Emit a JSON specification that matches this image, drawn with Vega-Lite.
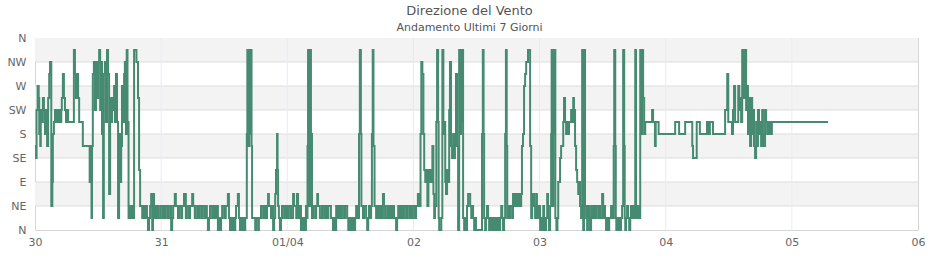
{
"$schema": "https://vega.github.io/schema/vega-lite/v6.json",
"width": 883,
"height": 192,
"autosize": {"type": "none"},
"padding": {"left": 35, "top": 38, "right": 22, "bottom": 30},
"background": "white",
"config": {"font": "DejaVu Sans", "view": {"stroke": "#d6d6d6", "strokeWidth": 1},
 "axisX": {"title": null, "grid": false, "ticks": false, "domain": false, "labelFlush": false, "labelColor": "#666666", "labelFontSize": 11, "labelPadding": 6},
 "axisY": {"title": null, "grid": false, "ticks": false, "domain": false, "labelColor": "#666666", "labelFontSize": 11, "labelPadding": 9}
},
"title": {"text": "Direzione del Vento", "subtitle": "Andamento Ultimi 7 Giorni", "fontSize": 13, "fontWeight": "normal", "color": "#555555", "subtitleFontSize": 11, "subtitleColor": "#555555", "anchor": "middle", "dx": -7, "offset": -1, "subtitlePadding": 4},
"datasets": {
"bands": [{"a": 45, "b": 90}, {"a": 135, "b": 180}, {"a": 225, "b": 270}, {"a": 315, "b": 360}],
"hgrid": [{"g": 45}, {"g": 90}, {"g": 135}, {"g": 180}, {"g": 225}, {"g": 270}, {"g": 315}],
"vgrid": [{"v": 24}, {"v": 48}, {"v": 72}, {"v": 96}, {"v": 120}, {"v": 144}],
"wind": [
{"h":0,"d":157.5},{"h":0.2,"d":135},{"h":0.3,"d":225},{"h":0.5,"d":270},{"h":0.7,"d":247.5},{"h":0.8,"d":180},{"h":1.0,"d":157.5},{"h":1.1,"d":225},{"h":1.3,"d":202.5},{"h":1.5,"d":247.5},{"h":1.7,"d":225},{"h":1.9,"d":180},{"h":2.1,"d":225},{"h":2.3,"d":157.5},{"h":2.5,"d":247.5},{"h":2.7,"d":292.5},{"h":2.85,"d":315},{"h":3.1,"d":45},{"h":3.3,"d":90},{"h":3.4,"d":180},{"h":3.6,"d":202.5},{"h":3.8,"d":225},{"h":4.0,"d":202.5},{"h":4.2,"d":225},{"h":4.4,"d":202.5},{"h":4.6,"d":225},{"h":4.8,"d":202.5},{"h":5.0,"d":225},{"h":5.1,"d":247.5},{"h":5.3,"d":292.5},{"h":5.5,"d":247.5},{"h":5.7,"d":225},{"h":5.9,"d":202.5},{"h":6.1,"d":225},{"h":6.3,"d":202.5},{"h":7.4,"d":337.5},{"h":7.6,"d":292.5},{"h":7.8,"d":247.5},{"h":8.0,"d":292.5},{"h":8.2,"d":247.5},{"h":8.4,"d":202.5},{"h":9.1,"d":157.5},{"h":10.4,"d":90},{"h":10.5,"d":157.5},{"h":10.6,"d":90},{"h":10.75,"d":22.5},{"h":10.85,"d":157.5},{"h":11.0,"d":292.5},{"h":11.2,"d":315},{"h":11.4,"d":225},{"h":11.6,"d":315},{"h":11.8,"d":247.5},{"h":12.0,"d":315},{"h":12.2,"d":337.5},{"h":12.4,"d":225},{"h":12.55,"d":315},{"h":12.75,"d":180},{"h":12.95,"d":22.5},{"h":13.1,"d":292.5},{"h":13.3,"d":315},{"h":13.5,"d":202.5},{"h":13.7,"d":337.5},{"h":13.9,"d":292.5},{"h":14.1,"d":67.5},{"h":14.3,"d":247.5},{"h":14.5,"d":202.5},{"h":14.65,"d":247.5},{"h":14.85,"d":225},{"h":15.05,"d":270},{"h":15.2,"d":202.5},{"h":15.4,"d":292.5},{"h":15.6,"d":202.5},{"h":15.8,"d":22.5},{"h":16.0,"d":180},{"h":16.2,"d":90},{"h":16.4,"d":157.5},{"h":16.55,"d":270},{"h":16.75,"d":202.5},{"h":16.95,"d":292.5},{"h":17.1,"d":315},{"h":17.3,"d":180},{"h":17.45,"d":337.5},{"h":17.6,"d":202.5},{"h":17.8,"d":22.5},{"h":18.0,"d":45},{"h":18.2,"d":22.5},{"h":18.4,"d":45},{"h":18.65,"d":22.5},{"h":18.85,"d":337.5},{"h":19.3,"d":315},{"h":19.6,"d":247.5},{"h":19.8,"d":112.5},{"h":20.0,"d":45},
{"h":20.4,"d":22.5},{"h":20.55,"d":45},{"h":20.9,"d":22.5},{"h":21.1,"d":45},{"h":21.3,"d":22.5},{"h":21.5,"d":0},{"h":21.7,"d":22.5},{"h":21.9,"d":45},{"h":22.1,"d":67.5},{"h":22.3,"d":0},{"h":22.45,"d":67.5},{"h":22.65,"d":22.5},{"h":22.85,"d":45},{"h":23.0,"d":22.5},{"h":23.2,"d":45},{"h":23.4,"d":22.5},{"h":23.8,"d":45},{"h":24.2,"d":22.5},{"h":24.4,"d":45},{"h":24.7,"d":22.5},{"h":24.9,"d":45},{"h":25.3,"d":22.5},{"h":25.7,"d":45},{"h":25.9,"d":0},{"h":26.1,"d":22.5},{"h":26.3,"d":45},{"h":26.6,"d":67.5},{"h":26.8,"d":45},{"h":27.2,"d":22.5},{"h":27.4,"d":45},{"h":27.8,"d":22.5},{"h":28.0,"d":45},{"h":28.35,"d":67.5},{"h":28.7,"d":22.5},{"h":28.9,"d":45},{"h":29.3,"d":22.5},{"h":29.5,"d":45},{"h":29.9,"d":67.5},{"h":30.1,"d":45},{"h":30.4,"d":22.5},{"h":30.6,"d":45},{"h":31.0,"d":22.5},{"h":31.2,"d":45},{"h":31.6,"d":22.5},{"h":31.8,"d":45},{"h":32.2,"d":22.5},{"h":32.35,"d":45},{"h":32.7,"d":22.5},{"h":32.9,"d":0},{"h":33.1,"d":22.5},{"h":33.3,"d":45},{"h":33.7,"d":22.5},{"h":33.9,"d":45},{"h":34.25,"d":22.5},{"h":34.6,"d":45},{"h":34.8,"d":0},{"h":35.0,"d":22.5},{"h":35.2,"d":0},{"h":35.4,"d":22.5},{"h":35.6,"d":45},{"h":36.0,"d":22.5},{"h":36.3,"d":45},{"h":36.7,"d":67.5},{"h":36.9,"d":22.5},{"h":37.1,"d":0},{"h":37.3,"d":22.5},{"h":37.5,"d":0},{"h":37.7,"d":22.5},{"h":37.9,"d":0},{"h":38.1,"d":22.5},{"h":38.25,"d":45},{"h":38.6,"d":67.5},{"h":38.8,"d":22.5},{"h":39.0,"d":0},{"h":39.2,"d":22.5},{"h":39.4,"d":0},{"h":39.6,"d":22.5},{"h":39.8,"d":0},{"h":40.0,"d":22.5},{"h":40.3,"d":180},{"h":40.4,"d":337.5},{"h":40.6,"d":157.5},{"h":40.75,"d":337.5},{"h":40.95,"d":180},{"h":41.1,"d":337.5},{"h":41.2,"d":157.5},{"h":41.3,"d":22.5},{"h":41.9,"d":0},{"h":42.05,"d":22.5},{"h":42.45,"d":0},{"h":42.6,"d":22.5},{"h":43.0,"d":45},{"h":43.4,"d":22.5},{"h":43.6,"d":45},{"h":43.95,"d":22.5},{"h":44.15,"d":45},{"h":44.35,"d":67.5},{"h":44.5,"d":45},{"h":44.9,"d":22.5},{"h":45.1,"d":45},{"h":45.3,"d":0},{"h":45.5,"d":22.5},{"h":45.7,"d":67.5},{"h":45.85,"d":112.5},{"h":46.05,"d":180},{"h":46.15,"d":112.5},{"h":46.25,"d":45},{"h":46.4,"d":22.5},{"h":46.6,"d":0},{"h":46.8,"d":22.5},{"h":47.0,"d":45},{"h":47.4,"d":22.5},{"h":47.6,"d":45},{"h":47.95,"d":22.5},{"h":48.3,"d":45},{"h":48.7,"d":22.5},{"h":49.1,"d":67.5},{"h":49.3,"d":45},{"h":49.7,"d":22.5},{"h":49.85,"d":67.5},{"h":50.05,"d":22.5},{"h":50.4,"d":45},{"h":50.6,"d":0},{"h":50.8,"d":22.5},{"h":51.0,"d":0},{"h":51.2,"d":22.5},{"h":51.4,"d":0},{"h":51.55,"d":45},{"h":51.75,"d":22.5},{"h":51.85,"d":157.5},{"h":51.95,"d":337.5},{"h":52.2,"d":45},{"h":52.35,"d":337.5},{"h":52.5,"d":180},{"h":52.7,"d":22.5},{"h":52.9,"d":45},{"h":53.3,"d":22.5},{"h":53.5,"d":45},{"h":53.7,"d":67.5},{"h":53.85,"d":45},{"h":54.2,"d":22.5},{"h":54.6,"d":45},{"h":55.0,"d":22.5},{"h":55.2,"d":45},{"h":55.55,"d":22.5},{"h":55.8,"d":45},{"h":56.3,"d":22.5},{"h":56.7,"d":0},{"h":56.9,"d":22.5},{"h":57.1,"d":0},{"h":57.3,"d":45},{"h":57.65,"d":22.5},{"h":57.85,"d":45},{"h":58.2,"d":22.5},{"h":58.4,"d":45},{"h":58.8,"d":22.5},{"h":59.0,"d":45},{"h":59.4,"d":22.5},{"h":59.6,"d":0},{"h":59.75,"d":22.5},{"h":59.95,"d":0},{"h":60.1,"d":22.5},{"h":60.3,"d":0},{"h":60.5,"d":22.5},{"h":60.7,"d":0},{"h":60.9,"d":22.5},{"h":61.1,"d":45},{"h":61.3,"d":22.5},{"h":61.65,"d":180},{"h":61.8,"d":337.5},{"h":62.0,"d":180},{"h":62.1,"d":45},{"h":62.4,"d":22.5},{"h":62.6,"d":45},{"h":63.0,"d":22.5},{"h":63.2,"d":0},{"h":63.4,"d":22.5},{"h":63.55,"d":45},{"h":63.75,"d":22.5},{"h":63.95,"d":45},{"h":64.1,"d":180},{"h":64.25,"d":337.5},{"h":64.4,"d":157.5},{"h":64.6,"d":45},{"h":64.9,"d":22.5},{"h":65.1,"d":45},{"h":65.3,"d":22.5},{"h":65.65,"d":45},{"h":65.85,"d":22.5},{"h":66.2,"d":67.5},{"h":66.4,"d":45},{"h":66.6,"d":22.5},{"h":67.0,"d":45},{"h":67.2,"d":22.5},{"h":67.55,"d":45},{"h":67.75,"d":22.5},{"h":68.1,"d":45},{"h":68.3,"d":22.5},{"h":68.7,"d":0},{"h":68.9,"d":22.5},{"h":69.1,"d":45},{"h":69.45,"d":22.5},{"h":69.65,"d":45},{"h":70.0,"d":22.5},{"h":70.2,"d":45},{"h":70.6,"d":22.5},{"h":70.8,"d":45},{"h":71.2,"d":22.5},{"h":71.35,"d":45},{"h":71.7,"d":22.5},{"h":71.9,"d":45},{"h":72.3,"d":22.5},{"h":72.5,"d":45},{"h":72.85,"d":67.5},{"h":73.05,"d":45},{"h":73.35,"d":180},{"h":73.5,"d":315},{"h":73.7,"d":292.5},{"h":73.9,"d":180},{"h":74.05,"d":112.5},{"h":74.25,"d":90},{"h":74.45,"d":112.5},{"h":74.65,"d":45},{"h":74.85,"d":112.5},{"h":75.0,"d":90},{"h":75.2,"d":112.5},{"h":75.4,"d":90},{"h":75.6,"d":157.5},{"h":75.8,"d":67.5},{"h":75.95,"d":22.5},{"h":76.1,"d":45},{"h":76.35,"d":202.5},{"h":76.5,"d":337.5},{"h":76.7,"d":202.5},{"h":76.8,"d":22.5},{"h":76.9,"d":0},{"h":77.3,"d":22.5},{"h":77.5,"d":337.5},{"h":77.7,"d":180},{"h":77.85,"d":202.5},{"h":78.05,"d":90},{"h":78.2,"d":67.5},{"h":78.4,"d":112.5},{"h":78.6,"d":90},{"h":78.8,"d":225},{"h":78.95,"d":315},{"h":79.15,"d":157.5},{"h":79.35,"d":135},{"h":79.55,"d":180},{"h":79.75,"d":135},{"h":79.9,"d":157.5},{"h":80.1,"d":292.5},{"h":80.3,"d":157.5},{"h":80.5,"d":0},{"h":80.7,"d":337.5},{"h":80.9,"d":180},{"h":81.05,"d":202.5},{"h":81.25,"d":337.5},{"h":81.45,"d":22.5},{"h":81.65,"d":0},{"h":81.85,"d":22.5},{"h":82.0,"d":0},{"h":82.2,"d":45},{"h":82.4,"d":67.5},{"h":82.8,"d":45},{"h":83.0,"d":22.5},{"h":83.15,"d":45},{"h":83.35,"d":22.5},{"h":83.55,"d":0},{"h":83.7,"d":22.5},{"h":83.9,"d":0},{"h":85.05,"d":180},{"h":85.2,"d":337.5},{"h":85.35,"d":180},{"h":85.45,"d":22.5},{"h":85.65,"d":0},{"h":85.8,"d":22.5},{"h":86.0,"d":45},{"h":86.2,"d":22.5},{"h":86.4,"d":0},{"h":86.6,"d":22.5},{"h":86.8,"d":0},{"h":86.95,"d":22.5},{"h":87.15,"d":0},{"h":87.35,"d":22.5},{"h":87.5,"d":0},{"h":87.7,"d":22.5},{"h":87.9,"d":0},{"h":88.1,"d":22.5},{"h":88.3,"d":0},{"h":88.5,"d":22.5},{"h":88.7,"d":45},{"h":88.9,"d":22.5},{"h":89.05,"d":0},{"h":89.25,"d":22.5},{"h":89.45,"d":180},{"h":89.6,"d":337.5},{"h":89.75,"d":157.5},{"h":89.85,"d":22.5},{"h":90.0,"d":45},{"h":90.2,"d":22.5},{"h":90.4,"d":45},{"h":90.8,"d":22.5},{"h":90.95,"d":67.5},{"h":91.15,"d":45},{"h":91.35,"d":67.5},{"h":91.5,"d":45},{"h":91.7,"d":67.5},{"h":91.9,"d":45},{"h":92.1,"d":67.5},{"h":92.3,"d":45},{"h":92.5,"d":67.5},{"h":92.65,"d":157.5},{"h":92.85,"d":180},{"h":93.05,"d":270},{"h":93.25,"d":292.5},{"h":93.45,"d":315},{"h":93.8,"d":337.5},{"h":94.2,"d":157.5},{"h":94.4,"d":22.5},{"h":94.6,"d":45},{"h":94.75,"d":67.5},{"h":94.95,"d":45},{"h":95.15,"d":22.5},{"h":95.35,"d":67.5},{"h":95.5,"d":45},{"h":95.7,"d":22.5},{"h":95.9,"d":45},{"h":96.1,"d":0},{"h":96.3,"d":22.5},{"h":96.5,"d":0},{"h":96.7,"d":45},{"h":96.85,"d":22.5},{"h":97.05,"d":0},{"h":97.25,"d":22.5},{"h":97.45,"d":67.5},{"h":97.6,"d":22.5},{"h":97.8,"d":0},{"h":98.0,"d":45},{"h":98.2,"d":180},{"h":98.3,"d":337.5},{"h":98.5,"d":45},{"h":98.6,"d":337.5},{"h":98.8,"d":180},{"h":98.9,"d":337.5},{"h":99.0,"d":22.5},{"h":99.2,"d":0},{"h":99.4,"d":22.5},{"h":99.55,"d":90},{"h":99.9,"d":135},{"h":100.1,"d":157.5},{"h":100.5,"d":202.5},{"h":100.65,"d":247.5},{"h":100.85,"d":202.5},{"h":101.05,"d":180},{"h":101.25,"d":202.5},{"h":101.4,"d":180},{"h":101.6,"d":202.5},{"h":102.0,"d":225},{"h":102.2,"d":202.5},{"h":102.4,"d":247.5},{"h":102.55,"d":225},{"h":102.75,"d":157.5},{"h":102.95,"d":112.5},{"h":103.15,"d":90},{"h":103.35,"d":67.5},{"h":103.5,"d":90},{"h":103.7,"d":45},{"h":103.9,"d":22.5},{"h":104.1,"d":337.5},{"h":104.3,"d":0},{"h":104.45,"d":337.5},{"h":104.65,"d":45},{"h":104.85,"d":22.5},{"h":105.05,"d":0},{"h":105.2,"d":45},{"h":105.4,"d":22.5},{"h":105.6,"d":0},{"h":105.8,"d":45},{"h":106.0,"d":22.5},{"h":106.2,"d":45},{"h":106.55,"d":22.5},{"h":106.75,"d":45},{"h":107.15,"d":22.5},{"h":107.3,"d":45},{"h":107.5,"d":22.5},{"h":107.9,"d":67.5},{"h":108.1,"d":22.5},{"h":108.3,"d":45},{"h":108.45,"d":22.5},{"h":108.65,"d":0},{"h":108.85,"d":22.5},{"h":109.05,"d":0},{"h":109.25,"d":22.5},{"h":109.6,"d":45},{"h":109.8,"d":22.5},{"h":110.1,"d":157.5},{"h":110.2,"d":337.5},{"h":110.4,"d":157.5},{"h":110.5,"d":22.5},{"h":110.6,"d":0},{"h":110.75,"d":22.5},{"h":110.95,"d":0},{"h":111.15,"d":22.5},{"h":111.3,"d":0},{"h":111.5,"d":22.5},{"h":111.7,"d":45},{"h":111.9,"d":337.5},{"h":112.1,"d":157.5},{"h":112.2,"d":22.5},{"h":112.3,"d":0},{"h":112.45,"d":22.5},{"h":112.65,"d":45},{"h":112.85,"d":22.5},{"h":113.05,"d":0},{"h":113.25,"d":22.5},{"h":113.4,"d":45},{"h":113.6,"d":22.5},{"h":113.8,"d":45},{"h":114.0,"d":22.5},{"h":114.2,"d":337.5},{"h":114.35,"d":45},{"h":114.55,"d":22.5},{"h":114.75,"d":45},{"h":114.95,"d":22.5},{"h":115.15,"d":337.5},{"h":115.3,"d":180},{"h":115.5,"d":337.5},{"h":115.7,"d":247.5},{"h":115.9,"d":180},{"h":116.1,"d":202.5},{"h":117.4,"d":225},{"h":117.6,"d":202.5},{"h":117.95,"d":157.5},{"h":118.1,"d":202.5},{"h":118.65,"d":180},{"h":121.8,"d":202.5},{"h":122.55,"d":180},{"h":123.7,"d":202.5},{"h":125.05,"d":157.5},{"h":125.2,"d":135},{"h":125.9,"d":202.5},{"h":126.5,"d":180},{"h":127.85,"d":202.5},{"h":128.05,"d":180},{"h":128.4,"d":202.5},{"h":129.0,"d":180},{"h":131.3,"d":225},{"h":131.7,"d":292.5},{"h":131.9,"d":202.5},{"h":132.6,"d":180},{"h":132.8,"d":225},{"h":133.0,"d":270},{"h":133.2,"d":202.5},{"h":133.8,"d":270},{"h":134.0,"d":225},{"h":134.15,"d":247.5},{"h":134.35,"d":202.5},{"h":134.55,"d":337.5},{"h":134.75,"d":270},{"h":134.9,"d":247.5},{"h":135.1,"d":337.5},{"h":135.3,"d":225},{"h":135.5,"d":270},{"h":135.65,"d":180},{"h":135.85,"d":247.5},{"h":136.05,"d":157.5},{"h":136.25,"d":247.5},{"h":136.45,"d":180},{"h":136.6,"d":225},{"h":136.8,"d":157.5},{"h":137.0,"d":135},{"h":137.2,"d":202.5},{"h":137.4,"d":157.5},{"h":137.55,"d":225},{"h":137.75,"d":180},{"h":137.95,"d":202.5},{"h":138.15,"d":157.5},{"h":138.35,"d":225},{"h":138.5,"d":180},{"h":138.7,"d":157.5},{"h":138.9,"d":225},{"h":139.1,"d":202.5},{"h":139.3,"d":180},{"h":139.4,"d":202.5},{"h":139.6,"d":180},{"h":139.8,"d":202.5},{"h":140.0,"d":180},{"h":140.2,"d":202.5},{"h":150.9,"d":202.5}
]
},
"layer": [
{"data": {"name": "bands"}, "mark": {"type": "rect", "color": "#f3f3f3"},
 "encoding": {"y": {"field": "a", "type": "quantitative", "scale": {"domain": [0, 360], "nice": false},
   "axis": {"values": [0, 45, 90, 135, 180, 225, 270, 315, 360], "labelExpr": "['N','NE','E','SE','S','SW','W','NW','N'][round(datum.value/45)]"}}, "y2": {"field": "b"}}},
{"data": {"name": "hgrid"}, "mark": {"type": "rule", "color": "#dddddd", "strokeWidth": 1},
 "encoding": {"y": {"field": "g", "type": "quantitative", "scale": {"domain": [0, 360], "nice": false},
   "axis": {"values": [0, 45, 90, 135, 180, 225, 270, 315, 360], "labelExpr": "['N','NE','E','SE','S','SW','W','NW','N'][round(datum.value/45)]"}}}},
{"data": {"name": "vgrid"}, "mark": {"type": "rule", "color": "#ebe8f7", "strokeWidth": 1},
 "encoding": {"x": {"field": "v", "type": "quantitative", "scale": {"domain": [0, 168], "nice": false, "zero": false},
   "axis": {"values": [0, 24, 48, 72, 96, 120, 144, 168], "labelExpr": "['30','31','01/04','02','03','04','05','06'][round(datum.value/24)]"}}}},
{"data": {"name": "wind"}, "mark": {"type": "line", "interpolate": "step-after", "color": "#468a72", "strokeWidth": 2},
 "encoding": {
  "x": {"field": "h", "type": "quantitative", "scale": {"domain": [0, 168], "nice": false, "zero": false},
   "axis": {"values": [0, 24, 48, 72, 96, 120, 144, 168], "labelExpr": "['30','31','01/04','02','03','04','05','06'][round(datum.value/24)]"}},
  "y": {"field": "d", "type": "quantitative", "scale": {"domain": [0, 360], "nice": false},
   "axis": {"values": [0, 45, 90, 135, 180, 225, 270, 315, 360], "labelExpr": "['N','NE','E','SE','S','SW','W','NW','N'][round(datum.value/45)]"}}
 }}
]
}
